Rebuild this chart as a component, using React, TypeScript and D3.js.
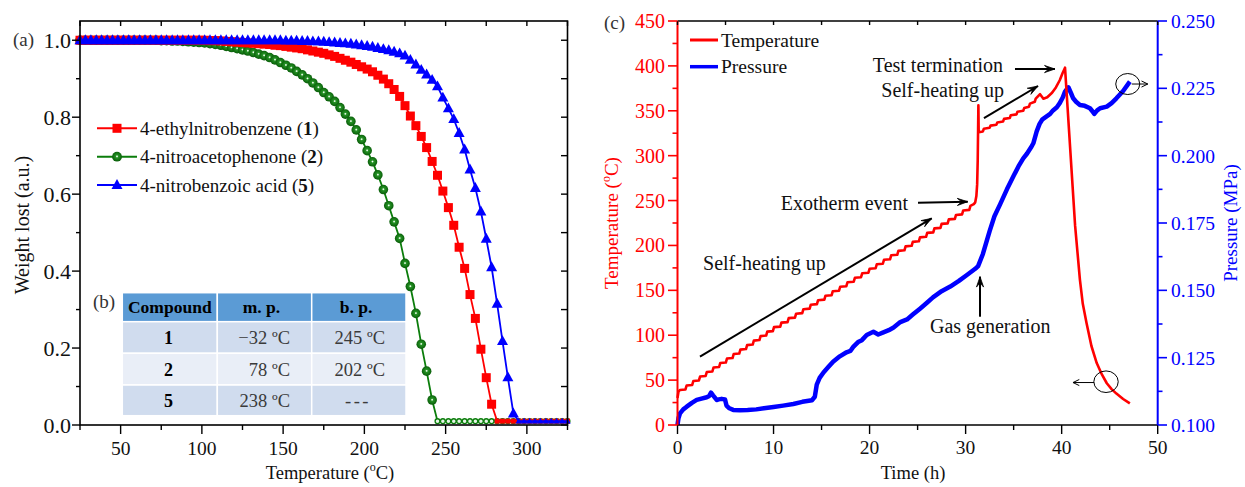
import React from 'react';
import * as d3 from 'd3';

// ---------------- Panel (a): TGA data ----------------
const tgaTemps = [
  25, 28.3, 31.7, 35, 38.3, 41.7, 45, 48.3, 51.7, 55,
  58.3, 61.7, 65, 68.3, 71.7, 75, 78.3, 81.7, 85, 88.3,
  91.7, 95, 98.3, 101.7, 105, 108.3, 111.7, 115, 118.3, 121.7,
  125, 128.3, 131.7, 135, 138.3, 141.7, 145, 148.3, 151.7, 155,
  158.3, 161.7, 165, 168.3, 171.7, 175, 178.3, 181.7, 185, 188.3,
  191.7, 195, 198.3, 201.7, 205, 208.3, 211.7, 215, 218.3, 221.7,
  225, 228.3, 231.7, 235, 238.3, 241.7, 245, 248.3, 251.7, 255,
  258.3, 261.7, 265, 268.3, 271.7, 275, 278.3, 281.7, 285, 288.3,
  291.7, 295, 298.3, 301.7, 305, 308.3, 311.7, 315, 318.3, 321.7,
  325,
];

// 4-ethylnitrobenzene (1)
const weight1 = [
  1, 1, 1, 1, 1, 1, 1, 1, 1, 1,
  1, 1, 1, 1, 1, 1, 1, 1, 1, 1,
  1, 1, 1, 1, 0.999, 0.999, 0.998, 0.997, 0.996, 0.995,
  0.994, 0.993, 0.992, 0.991, 0.99, 0.989, 0.987, 0.986, 0.984, 0.982,
  0.98, 0.978, 0.975, 0.972, 0.969, 0.966, 0.962, 0.958, 0.953, 0.948,
  0.943, 0.937, 0.931, 0.925, 0.918, 0.909, 0.899, 0.887, 0.872, 0.854,
  0.83, 0.803, 0.778, 0.75, 0.721, 0.685, 0.649, 0.608, 0.565, 0.519,
  0.462, 0.407, 0.339, 0.277, 0.197, 0.123, 0.054, 0.01, 0.01, 0.01,
  0.01, 0.01, 0.01, 0.01, 0.01, 0.01, 0.01, 0.01, 0.01, 0.01,
  0.01,
];

// 4-nitroacetophenone (2)
const weight2 = [
  1, 1, 1, 1, 1, 1, 1, 1, 1, 1,
  1, 1, 1, 1, 1, 0.999, 0.999, 0.998, 0.998, 0.997,
  0.996, 0.995, 0.994, 0.993, 0.991, 0.989, 0.987, 0.984, 0.981, 0.978,
  0.975, 0.972, 0.968, 0.964, 0.96, 0.955, 0.949, 0.942, 0.935, 0.928,
  0.919, 0.91, 0.9, 0.889, 0.877, 0.864, 0.853, 0.841, 0.825, 0.808,
  0.789, 0.767, 0.742, 0.713, 0.684, 0.65, 0.612, 0.57, 0.528, 0.485,
  0.42, 0.36, 0.29, 0.21, 0.14, 0.065, 0.01, 0.01, 0.01, 0.01,
  0.01, 0.01, 0.01, 0.01, 0.01, 0.01, 0.01, 0.01, 0.01, 0.01,
  0.01, 0.01, 0.01, 0.01, 0.01, 0.01, 0.01, 0.01, 0.01, 0.01,
  0.01,
];

// 4-nitrobenzoic acid (5)
const weight5 = [
  1, 1, 1, 1, 1, 1, 1, 1, 1, 1,
  1, 1, 1, 1, 1, 1, 1, 1, 1, 1,
  1, 1, 1, 1, 1, 1, 1, 1, 1, 1,
  1, 1, 1, 1, 1, 1, 1, 1, 0.999, 0.999,
  0.999, 0.998, 0.998, 0.997, 0.997, 0.996, 0.995, 0.994, 0.993, 0.992,
  0.991, 0.989, 0.987, 0.985, 0.983, 0.98, 0.977, 0.974, 0.97, 0.966,
  0.96, 0.949, 0.937, 0.923, 0.911, 0.897, 0.88, 0.851, 0.823, 0.795,
  0.759, 0.716, 0.664, 0.616, 0.555, 0.484, 0.41, 0.315, 0.218, 0.124,
  0.03, 0.01, 0.01, 0.01, 0.01, 0.01, 0.01, 0.01, 0.01, 0.01,
  0.01,
];

const tgaSeriesNames = ['4-ethylnitrobenzene (', '4-nitroacetophenone (', '4-nitrobenzoic acid ('];
const tgaSeriesIds = ['1', '2', '5'];

const tgaXTicks = [50, 100, 150, 200, 250, 300];
const tgaXMinor = [25, 75, 125, 175, 225, 275, 325];
const tgaYTicks = [0, 0.2, 0.4, 0.6, 0.8, 1.0];
const tgaYMinor = [0.1, 0.3, 0.5, 0.7, 0.9];

// ---------------- Panel (b): table ----------------
const tableHeader = ['Compound', 'm. p.', 'b. p.'];
const tableCompounds = ['1', '2', '5'];
const tableMp = ['\u221232 \u00baC', '78 \u00baC', '238 \u00baC'];
const tableBp = ['245 \u00baC', '202 \u00baC', '---'];

// ---------------- Panel (c): ARC data ----------------
const arcTemperature: [number, number][] = [
  [0, 30], [0.1, 37],
  [0.25, 39], [0.83, 39.6], [0.95, 44], [1.53, 44.6], [1.65, 49], [2.23, 49.6],
  [2.35, 54], [2.93, 54.6], [3.05, 59], [3.63, 59.6], [3.75, 64], [4.33, 64.6],
  [4.45, 69], [5.03, 69.6], [5.15, 74], [5.73, 74.6], [5.85, 79], [6.43, 79.6],
  [6.55, 84], [7.13, 84.6], [7.25, 89], [7.83, 89.6], [7.95, 94], [8.53, 94.6],
  [8.65, 99], [9.23, 99.6], [9.35, 104], [9.93, 104.6], [10.05, 109], [10.7, 109.6],
  [10.82, 114], [11.46, 114.6], [11.58, 119], [12.23, 119.6], [12.35, 124], [12.99, 124.6],
  [13.11, 129], [13.76, 129.6], [13.88, 134], [14.52, 134.6], [14.64, 139], [15.29, 139.6],
  [15.41, 144], [16.05, 144.6], [16.17, 149], [16.82, 149.6], [16.94, 154], [17.58, 154.6],
  [17.7, 159], [18.35, 159.6], [18.47, 164], [19.11, 164.6], [19.23, 169], [19.88, 169.6],
  [20.0, 174], [20.63, 174.6], [20.75, 179], [21.38, 179.6], [21.5, 184], [22.13, 184.6],
  [22.25, 189], [22.88, 189.6], [23.0, 194], [23.63, 194.6], [23.75, 199], [24.38, 199.6],
  [24.5, 204], [25.13, 204.6], [25.25, 209], [25.88, 209.6], [26.0, 214], [26.63, 214.6],
  [26.75, 219], [27.38, 219.6], [27.5, 224], [28.13, 224.6], [28.25, 229], [28.88, 229.6],
  [29.0, 234], [29.63, 234.6], [29.75, 239], [30.38, 239.6], [30.5, 244], [30.85, 246],
  [31.0, 248], [31.12, 255], [31.2, 268], [31.26, 295], [31.3, 330], [31.33, 356], [31.36, 326],
  [31.8, 327], [31.9, 330], [32.5, 331], [32.6, 333.5], [33.2, 334.5], [33.3, 337],
  [33.9, 338], [34.0, 341], [34.6, 342], [34.7, 345], [35.3, 346], [35.4, 349],
  [36.0, 350], [36.1, 353], [36.6, 354.5], [36.7, 358], [37.2, 360], [37.3, 363.5],
  [37.75, 368.5], [38.1, 363.5], [38.5, 365], [39.0, 370], [39.4, 376], [39.8, 384],
  [40.1, 392], [40.35, 398], [41.4, 222], [41.9, 162], [42.2, 135], [42.6, 113],
  [43.1, 88], [43.65, 69], [44.2, 56], [44.7, 46.5], [45.2, 40], [45.7, 35],
  [46.4, 29], [47.1, 24],
];

const arcPressure: [number, number][] = [
  [0, 0.1], [0.1, 0.1025], [0.26, 0.1043], [0.6, 0.1058], [0.96, 0.1068], [1.5, 0.1082],
  [2.0, 0.1093], [2.5, 0.1098], [3.04, 0.1103], [3.3, 0.1108], [3.49, 0.112], [3.7, 0.111],
  [4.08, 0.1093], [4.3, 0.1095], [4.6, 0.1097], [4.95, 0.1095], [5.1, 0.1072], [5.4, 0.1062],
  [5.8, 0.1056], [6.5, 0.1055], [7.3, 0.1056], [8.2, 0.1058], [9.0, 0.1062], [10.0, 0.1067],
  [11.0, 0.1072], [12.06, 0.1078], [13.0, 0.1086], [14.0, 0.1092], [14.3, 0.1105], [14.5, 0.115],
  [14.8, 0.1175], [15.2, 0.1195], [15.7, 0.1215], [16.2, 0.1235], [16.9, 0.1255], [17.6, 0.127],
  [18.0, 0.1275], [18.3, 0.129], [18.8, 0.1308], [19.2, 0.1315], [19.7, 0.1334], [20.4, 0.1346],
  [20.9, 0.1336], [21.5, 0.1345], [22.0, 0.1352], [22.5, 0.1362], [23.2, 0.1382], [23.9, 0.1392],
  [24.5, 0.141], [25.25, 0.1432], [26.0, 0.1455], [26.6, 0.1474], [27.5, 0.1497], [28.4, 0.1514],
  [29.3, 0.1535], [30.1, 0.1556], [31.0, 0.158], [31.3, 0.159], [31.8, 0.1635], [32.5, 0.172],
  [33.0, 0.1775], [33.6, 0.182], [34.3, 0.1875], [35.0, 0.1925], [35.5, 0.196], [36.0, 0.199],
  [36.4, 0.2008], [36.8, 0.203], [37.05, 0.2046], [37.4, 0.209], [37.7, 0.2118], [38.0, 0.2135],
  [38.4, 0.2145], [38.8, 0.2155], [39.1, 0.2168], [39.5, 0.218], [39.8, 0.2195], [40.1, 0.2215],
  [40.35, 0.2238], [40.7, 0.2254], [41.0, 0.223], [41.2, 0.2213], [41.5, 0.22], [41.9, 0.2188],
  [42.4, 0.2185], [42.95, 0.2176], [43.2, 0.2165], [43.4, 0.2155], [43.7, 0.2168], [44.0, 0.2176],
  [44.7, 0.2182], [45.2, 0.2195], [45.7, 0.2213], [46.4, 0.224], [47.1, 0.2275],
];

const arcLegend = ['Temperature', 'Pressure'];
const timeTicks = [0, 10, 20, 30, 40, 50];
const timeMinor = [5, 15, 25, 35, 45];
const tempTicks = [0, 50, 100, 150, 200, 250, 300, 350, 400, 450];
const tempMinor = [25, 75, 125, 175, 225, 275, 325, 375, 425];
const pressTicks = [0.1, 0.125, 0.15, 0.175, 0.2, 0.225, 0.25];
const pressMinor = [0.1125, 0.1375, 0.1625, 0.1875, 0.2125, 0.2375];

const FONT = "'Liberation Serif','Times New Roman',Times,serif";
const RED = '#ff0000';
const BLUE = '#0000ff';
const GREEN = '#0b7d0b';

function headPath(x1: number, y1: number, x2: number, y2: number, L = 11, phi = 0.33) {
  const a = Math.atan2(y2 - y1, x2 - x1);
  const p1 = [x2 - L * Math.cos(a - phi), y2 - L * Math.sin(a - phi)];
  const p2 = [x2 - L * Math.cos(a + phi), y2 - L * Math.sin(a + phi)];
  const n = [x2 - 0.55 * L * Math.cos(a), y2 - 0.55 * L * Math.sin(a)];
  return `M${x2},${y2}L${p1[0]},${p1[1]}L${n[0]},${n[1]}L${p2[0]},${p2[1]}Z`;
}

function openHead(x1: number, y1: number, x2: number, y2: number, L = 7, phi = 0.45) {
  const a = Math.atan2(y2 - y1, x2 - x1);
  const p1 = [x2 - L * Math.cos(a - phi), y2 - L * Math.sin(a - phi)];
  const p2 = [x2 - L * Math.cos(a + phi), y2 - L * Math.sin(a + phi)];
  return `M${p1[0]},${p1[1]}L${x2},${y2}L${p2[0]},${p2[1]}`;
}

function Arrow({ x1, y1, x2, y2 }: { x1: number; y1: number; x2: number; y2: number }) {
  return (
    <g>
      <line x1={x1} y1={y1} x2={x2} y2={y2} stroke="#000" strokeWidth={2} />
      <path d={headPath(x1, y1, x2, y2)} fill="#000" stroke="#000" strokeWidth={0.8} />
    </g>
  );
}

function ThinArrow({ x1, y1, x2, y2 }: { x1: number; y1: number; x2: number; y2: number }) {
  return (
    <g>
      <line x1={x1} y1={y1} x2={x2} y2={y2} stroke="#000" strokeWidth={1} />
      <path d={openHead(x1, y1, x2, y2)} fill="none" stroke="#000" strokeWidth={1} />
    </g>
  );
}

function Square({ x, y, s, color }: { x: number; y: number; s: number; color: string }) {
  return <rect x={x - s / 2} y={y - s / 2} width={s} height={s} fill={color} />;
}
function Tri({ x, y, s, color }: { x: number; y: number; s: number; color: string }) {
  const h = s * 0.9;
  return <path d={`M${x},${y - h * 0.6}L${x + s / 2},${y + h * 0.4}L${x - s / 2},${y + h * 0.4}Z`} fill={color} />;
}
function Ball({ x, y, r }: { x: number; y: number; r: number }) {
  return <circle cx={x} cy={y} r={r} fill="url(#ballGrad)" />;
}

export default function App() {
  // scales panel (a)
  const xA = d3.scaleLinear().domain([25, 325]).range([80, 567.5]);
  const yA = d3.scaleLinear().domain([0, 1.05]).range([425, 21]);
  // scales panel (c)
  const xC = d3.scaleLinear().domain([0, 50]).range([677.5, 1157.7]);
  const yT = d3.scaleLinear().domain([0, 450]).range([425, 21]);
  const yP = d3.scaleLinear().domain([0.1, 0.25]).range([425, 21]);

  const lineA = (vals: number[]) =>
    d3.line<number>().x((_, i) => xA(tgaTemps[i])).y((v) => yA(v))(vals) || '';
  const lineT = d3.line<[number, number]>().x((d) => xC(d[0])).y((d) => yT(d[1]));
  const lineP = d3.line<[number, number]>().x((d) => xC(d[0])).y((d) => yP(d[1]));

  const isFlat = (v: number) => v <= 0.012;

  const axisStroke = 1.6;

  return (
    <div style={{ position: 'absolute', left: 0, top: 0 }}>
      <svg width={1245} height={487} style={{ display: 'block', background: '#fff' }} fontFamily={FONT}>
        <defs>
          <radialGradient id="ballGrad" cx="0.5" cy="0.47" r="0.55">
            <stop offset="0%" stopColor="#ffffff" />
            <stop offset="9%" stopColor="#d6eed6" />
            <stop offset="26%" stopColor="#259325" />
            <stop offset="100%" stopColor="#065806" />
          </radialGradient>
        </defs>

        {/* ================= Panel (a) ================= */}
        <text x={13} y={46} fontSize={19} fill="#333">(a)</text>

        {/* curves: green, red, blue */}
        <path d={lineA(weight2)} fill="none" stroke={GREEN} strokeWidth={1.8} />
        {weight2.map((v, i) =>
          isFlat(v) ? (
            <circle key={'g' + i} cx={xA(tgaTemps[i])} cy={yA(v)} r={2.4} fill="#e8f5e8" stroke={GREEN} strokeWidth={1.3} />
          ) : (
            <Ball key={'g' + i} x={xA(tgaTemps[i])} y={yA(v)} r={4.8} />
          )
        )}
        <path d={lineA(weight1)} fill="none" stroke={RED} strokeWidth={1.8} />
        {weight1.map((v, i) => (
          <Square key={'r' + i} x={xA(tgaTemps[i])} y={yA(v)} s={isFlat(v) ? 5 : 9} color={RED} />
        ))}
        <path d={lineA(weight5)} fill="none" stroke={BLUE} strokeWidth={1.8} />
        {weight5.map((v, i) => (
          <Tri key={'b' + i} x={xA(tgaTemps[i])} y={yA(v)} s={isFlat(v) ? 6.5 : 11} color={BLUE} />
        ))}

        {/* frame */}
        <rect x={80} y={21} width={487.5} height={404} fill="none" stroke="#000" strokeWidth={axisStroke} />
        {tgaXTicks.map((t) => (
          <g key={'xa' + t}>
            <line x1={xA(t)} x2={xA(t)} y1={425} y2={434} stroke="#000" strokeWidth={1.4} />
            <line x1={xA(t)} x2={xA(t)} y1={21} y2={26} stroke="#000" strokeWidth={1.4} />
            <text x={xA(t)} y={455} fontSize={19.5} textAnchor="middle" fill="#111">{t}</text>
          </g>
        ))}
        {tgaXMinor.map((t) => (
          <g key={'xam' + t}>
            <line x1={xA(t)} x2={xA(t)} y1={425} y2={430} stroke="#000" strokeWidth={1.4} />
            <line x1={xA(t)} x2={xA(t)} y1={21} y2={26} stroke="#000" strokeWidth={1.4} />
          </g>
        ))}
        {tgaYTicks.map((t) => (
          <g key={'ya' + t}>
            <line x1={72} x2={80} y1={yA(t)} y2={yA(t)} stroke="#000" strokeWidth={1.4} />
            <line x1={561} x2={567.5} y1={yA(t)} y2={yA(t)} stroke="#000" strokeWidth={1.4} />
            <text x={71} y={yA(t) + 7.5} fontSize={22} textAnchor="end" fill="#111">{t.toFixed(1)}</text>
          </g>
        ))}
        {tgaYMinor.map((t) => (
          <g key={'yam' + t}>
            <line x1={76} x2={80} y1={yA(t)} y2={yA(t)} stroke="#000" strokeWidth={1.4} />
            <line x1={561} x2={567.5} y1={yA(t)} y2={yA(t)} stroke="#000" strokeWidth={1.4} />
          </g>
        ))}
        <text x={330} y={479} fontSize={18.5} textAnchor="middle" fill="#111">
          Temperature (<tspan fontSize={12} dy={-8}>o</tspan>
          <tspan dy={8}>C)</tspan>
        </text>
        <text transform="translate(29,225) rotate(-90)" fontSize={20} textAnchor="middle" fill="#111">
          Weight lost (a.u.)
        </text>

        {/* legend (a) */}
        {[0, 1, 2].map((k) => {
          const y = [128.3, 156.7, 185][k];
          const color = [RED, GREEN, BLUE][k];
          return (
            <g key={'lg' + k}>
              <line x1={97} x2={137} y1={y} y2={y} stroke={color} strokeWidth={2} />
              {k === 0 && <Square x={117} y={y} s={9} color={RED} />}
              {k === 1 && <Ball x={117} y={y} r={4.9} />}
              {k === 2 && <Tri x={117} y={y} s={11} color={BLUE} />}
              <text x={140} y={y + 6.5} fontSize={19} fill="#111">
                {tgaSeriesNames[k]}
                <tspan fontWeight="bold">{tgaSeriesIds[k]}</tspan>)
              </text>
            </g>
          );
        })}

        {/* ================= Panel (b) table ================= */}
        <text x={93} y={308} fontSize={19} fill="#333">(b)</text>
        {(() => {
          const cols = [122.3, 217.3, 311.7, 406];
          const rows = [292.7, 321.7, 353.3, 385, 415.7];
          const fills = ['#5b9bd5', '#d0dcee', '#e9eef7', '#d0dcee'];
          const cells: any[] = [];
          for (let r = 0; r < 4; r++) {
            for (let c = 0; c < 3; c++) {
              cells.push(
                <rect key={`c${r}${c}`} x={cols[c]} y={rows[r]} width={cols[c + 1] - cols[c]} height={rows[r + 1] - rows[r]}
                  fill={fills[r]} stroke="#fff" strokeWidth={1.5} />
              );
            }
          }
          const hdrX = [169.8, 261.5, 356];
          return (
            <g>
              {cells}
              {tableHeader.map((h, i) => (
                <text key={'h' + i} x={hdrX[i]} y={313} fontSize={17.5} fontWeight="bold" textAnchor="middle"
                  fill="#000">{h}</text>
              ))}
              {tableCompounds.map((c, i) => {
                const cy = (rows[i + 1] + rows[i + 2]) / 2;
                return (
                  <g key={'row' + i}>
                    <text x={168.5} y={cy + 6.5} fontSize={18} fontWeight="bold" textAnchor="middle"
                      fill="#000">{c}</text>
                    <text x={290} y={cy + 6.5} fontSize={18.5} textAnchor="end" fill="#3a3a3a">{tableMp[i]}</text>
                    {tableBp[i] === '---' ? (
                      <text x={358} y={cy + 6.5} fontSize={18.5} textAnchor="middle" letterSpacing={2.5}
                        fill="#3a3a3a">{tableBp[i]}</text>
                    ) : (
                      <text x={385} y={cy + 6.5} fontSize={18.5} textAnchor="end" fill="#3a3a3a">{tableBp[i]}</text>
                    )}
                  </g>
                );
              })}
            </g>
          );
        })()}

        {/* ================= Panel (c) ================= */}
        <text x={604} y={29} fontSize={19} fill="#333">(c)</text>

        <path d={lineP(arcPressure) || ''} fill="none" stroke={BLUE} strokeWidth={4.5} strokeLinejoin="round" />
        <path d={lineT(arcTemperature) || ''} fill="none" stroke={RED} strokeWidth={2.6} strokeLinejoin="round" />

        {/* axes */}
        <line x1={677.5} x2={1157.7} y1={425} y2={425} stroke="#000" strokeWidth={axisStroke} />
        <line x1={677.5} x2={1157.7} y1={21} y2={21} stroke="#000" strokeWidth={axisStroke} />
        <line x1={677.5} x2={677.5} y1={21} y2={425} stroke={RED} strokeWidth={2} />
        <line x1={1157.7} x2={1157.7} y1={21} y2={425} stroke={BLUE} strokeWidth={2} />
        {timeTicks.map((t) => (
          <g key={'tt' + t}>
            <line x1={xC(t)} x2={xC(t)} y1={425} y2={434} stroke="#000" strokeWidth={1.4} />
            <line x1={xC(t)} x2={xC(t)} y1={21} y2={25} stroke="#000" strokeWidth={1.4} />
            <text x={xC(t)} y={453.5} fontSize={19.5} textAnchor="middle" fill="#111">{t}</text>
          </g>
        ))}
        {timeMinor.map((t) => (
          <g key={'ttm' + t}>
            <line x1={xC(t)} x2={xC(t)} y1={425} y2={430} stroke="#000" strokeWidth={1.4} />
            <line x1={xC(t)} x2={xC(t)} y1={21} y2={25} stroke="#000" strokeWidth={1.4} />
          </g>
        ))}
        {tempTicks.map((t) => (
          <g key={'tp' + t}>
            <line x1={668} x2={677.5} y1={yT(t)} y2={yT(t)} stroke={RED} strokeWidth={1.6} />
            <text x={665} y={yT(t) + 7} fontSize={20} textAnchor="end" fill={RED}>{t}</text>
          </g>
        ))}
        {tempMinor.map((t) => (
          <line key={'tpm' + t} x1={672.5} x2={677.5} y1={yT(t)} y2={yT(t)} stroke={RED} strokeWidth={1.6} />
        ))}
        {pressTicks.map((t) => (
          <g key={'pp' + t}>
            <line x1={1157.7} x2={1167} y1={yP(t)} y2={yP(t)} stroke={BLUE} strokeWidth={1.6} />
            <text x={1171} y={yP(t) + 7} fontSize={19.5} fill={BLUE}>{t.toFixed(3)}</text>
          </g>
        ))}
        {pressMinor.map((t) => (
          <line key={'ppm' + t} x1={1157.7} x2={1162.5} y1={yP(t)} y2={yP(t)} stroke={BLUE} strokeWidth={1.6} />
        ))}
        <text x={913} y={479} fontSize={18.5} textAnchor="middle" fill="#111">Time (h)</text>
        <text transform="translate(618,223) rotate(-90)" fontSize={19} textAnchor="middle" fill={RED}>
          Temperature (<tspan fontSize={12} dy={-8}>o</tspan>
          <tspan dy={8}>C)</tspan>
        </text>
        <text transform="translate(1237,223) rotate(-90)" fontSize={19} textAnchor="middle" fill={BLUE}>
          Pressure (MPa)
        </text>

        {/* legend (c) */}
        <line x1={690} x2={718} y1={40} y2={40} stroke={RED} strokeWidth={3} />
        <text x={721} y={46.5} fontSize={19.5} fill="#111">{arcLegend[0]}</text>
        <line x1={690} x2={718} y1={66.7} y2={66.7} stroke={BLUE} strokeWidth={3.5} />
        <text x={721} y={73} fontSize={19.5} fill="#111">{arcLegend[1]}</text>

        {/* annotations (data coordinates) */}
        <text x={xC(33.9)} y={yT(393.2)} fontSize={20} textAnchor="end" fill="#111">Test termination</text>
        <Arrow x1={xC(35.14)} y1={yT(396.5)} x2={xC(39.3)} y2={yT(396.5)} />
        <text x={xC(34.0)} y={yT(365.3)} fontSize={20} textAnchor="end" fill="#111">Self-heating up</text>
        <Arrow x1={xC(31.91)} y1={yT(341.9)} x2={xC(37.54)} y2={yT(377.6)} />
        <text x={xC(24.0)} y={yT(240)} fontSize={20} textAnchor="end" fill="#111">Exotherm event</text>
        <Arrow x1={xC(25.04)} y1={yT(247.6)} x2={xC(30.22)} y2={yT(248.7)} />
        <Arrow x1={xC(2.34)} y1={yT(76.1)} x2={xC(26.47)} y2={yT(230.2)} />
        <text x={xC(2.66)} y={yT(172.6)} fontSize={20} fill="#111">Self-heating up</text>
        <text x={xC(26.29)} y={yT(102.5)} fontSize={20} fill="#111">Gas generation</text>
        <Arrow x1={xC(31.5)} y1={yT(120.6)} x2={xC(31.5)} y2={yT(165.2)} />

        <ellipse cx={xC(46.88)} cy={yP(0.2266)} rx={12} ry={10.5} fill="none" stroke="#000" strokeWidth={1} />
        <ThinArrow x1={xC(47.3)} y1={yP(0.2266)} x2={xC(48.97)} y2={yP(0.2266)} />
        <ellipse cx={xC(44.62)} cy={yT(48.2)} rx={12.2} ry={10.8} fill="none" stroke="#000" strokeWidth={1} />
        <ThinArrow x1={xC(43.37)} y1={yT(47.3)} x2={xC(41.18)} y2={yT(47.3)} />
      </svg>
    </div>
  );
}
